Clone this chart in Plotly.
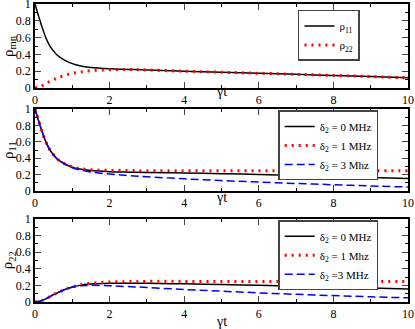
import plotly.graph_objects as go

# ---------------- data ----------------
t = [0, 0.1, 0.2, 0.3, 0.4, 0.5, 0.6, 0.8, 1.0, 1.2, 1.5, 2, 2.5, 3, 4, 5, 6, 7, 8, 9, 10]

# panel 1
rho11 = [1.0, 0.85, 0.71, 0.59, 0.50, 0.44, 0.39, 0.33, 0.29, 0.265, 0.245, 0.23, 0.222, 0.215,
         0.200, 0.188, 0.176, 0.163, 0.150, 0.136, 0.122]
rho22 = [0.0, 0.01, 0.03, 0.055, 0.08, 0.10, 0.12, 0.15, 0.175, 0.19, 0.208, 0.218, 0.22, 0.215,
         0.200, 0.188, 0.176, 0.163, 0.150, 0.136, 0.122]

# panel 2: rho11 for detunings
p2_d0 = [1.0, 0.85, 0.71, 0.59, 0.50, 0.44, 0.39, 0.33, 0.29, 0.268, 0.25, 0.237, 0.231, 0.227,
         0.22, 0.212, 0.203, 0.192, 0.18, 0.167, 0.155]
p2_d1 = [1.0, 0.85, 0.71, 0.59, 0.50, 0.44, 0.39, 0.33, 0.295, 0.275, 0.26, 0.252, 0.25, 0.249,
         0.248, 0.248, 0.248, 0.248, 0.248, 0.248, 0.248]
p2_d3 = [1.0, 0.85, 0.71, 0.59, 0.50, 0.44, 0.39, 0.33, 0.285, 0.258, 0.232, 0.207, 0.19, 0.175,
         0.15, 0.128, 0.11, 0.093, 0.078, 0.063, 0.05]

# panel 3: rho22 for detunings
p3_d0 = [0.0, 0.005, 0.02, 0.04, 0.065, 0.09, 0.11, 0.15, 0.18, 0.2, 0.215, 0.225, 0.226, 0.225,
         0.218, 0.21, 0.2, 0.19, 0.18, 0.168, 0.155]
p3_d1 = [0.0, 0.005, 0.02, 0.04, 0.065, 0.09, 0.11, 0.15, 0.18, 0.205, 0.225, 0.24, 0.245, 0.248,
         0.248, 0.248, 0.248, 0.248, 0.248, 0.248, 0.248]
p3_d3 = [0.0, 0.005, 0.02, 0.04, 0.065, 0.09, 0.11, 0.15, 0.178, 0.195, 0.2, 0.195, 0.185, 0.175,
         0.15, 0.13, 0.11, 0.092, 0.077, 0.062, 0.05]

x_ticks = [0, 2, 4, 6, 8, 10]
y_ticks = [0, 0.2, 0.4, 0.6, 0.8, 1]
y_ticklabels = ["0", "0.2", "0.4", "0.6", "0.8", "1"]

names1 = ["ρ<sub>11</sub>", "ρ<sub>22</sub>"]
names2 = ["δ<sub>2</sub> = 0 MHz", "δ<sub>2</sub> = 1 MHz", "δ<sub>2</sub> = 3 Mhz"]
names3 = ["δ<sub>2</sub> = 0 MHz", "δ<sub>2</sub> = 1 Mhz", "δ<sub>2</sub> =3 MHz"]
ytitles = ["ρ<sub>mn</sub>", "ρ<sub>11</sub>", "ρ<sub>22</sub>"]
xtitle = "γt"

# ---------------- styles ----------------
FONT = "Liberation Serif, Times New Roman, serif"
BLACK = dict(color="black", width=1.5)
RED = dict(color="red", width=3, dash="2px,5px")
BLUE = dict(color="blue", width=1.5, dash="8px,4px")

fig = go.Figure()

def add(x, y, name, line, xa, ya, leg):
    fig.add_trace(go.Scatter(x=x, y=y, name=name, mode="lines", line=dict(shape="spline", **line),
                             xaxis=xa, yaxis=ya, legend=leg, hoverinfo="skip"))

add(t, rho11, names1[0], BLACK, "x", "y", "legend")
add(t, rho22, names1[1], RED, "x", "y", "legend")
add(t, p2_d0, names2[0], BLACK, "x2", "y2", "legend2")
add(t, p2_d1, names2[1], RED, "x2", "y2", "legend2")
add(t, p2_d3, names2[2], BLUE, "x2", "y2", "legend2")
add(t, p3_d0, names3[0], BLACK, "x3", "y3", "legend3")
add(t, p3_d1, names3[1], RED, "x3", "y3", "legend3")
add(t, p3_d3, names3[2], BLUE, "x3", "y3", "legend3")

domains = [[0.718, 1.0], [0.372, 0.648], [0.0, 0.279]]

def xax(anchor):
    return dict(range=[-0.0001, 10.0001], tickvals=x_ticks, ticks="inside", ticklen=6, tickwidth=1,
                mirror="allticks", showline=True, linecolor="black", linewidth=1.5,
                showgrid=False, zeroline=False, anchor=anchor, automargin=False,
                ticklabeloverflow="allow",
                tickfont=dict(family=FONT, size=12, color="black"),
                minor=dict(dtick=1, ticks="inside", ticklen=3, tickcolor="black"))

def yax(anchor, dom):
    return dict(range=[-0.0001, 1.0001], tickvals=y_ticks, ticktext=y_ticklabels, ticks="inside", ticklen=6,
                tickwidth=1, mirror="allticks", showline=True, linecolor="black", linewidth=1.5,
                showgrid=False, zeroline=False, anchor=anchor, domain=dom, automargin=False,
                ticklabeloverflow="allow",
                tickfont=dict(family=FONT, size=12, color="black"),
                minor=dict(dtick=0.1, ticks="inside", ticklen=3, tickcolor="black"))

legbase = dict(bgcolor="white", bordercolor="#444", borderwidth=1.5,
               font=dict(family=FONT, size=11, color="black"), xanchor="left", yanchor="top",
               tracegroupgap=0, itemwidth=30)

annotations = []
for i, dom in enumerate(domains):
    annotations.append(dict(text=ytitles[i], xref="paper", yref="paper", x=-0.07,
                            y=(dom[0] + dom[1]) / 2, textangle=-90, showarrow=False,
                            xanchor="center", yanchor="middle",
                            font=dict(family=FONT, size=15, color="black")))
# x titles
for ypos in [0.705, 0.352, -0.064]:
    annotations.append(dict(text=xtitle, xref="paper", yref="paper", x=0.5, y=ypos,
                            showarrow=False, xanchor="center", yanchor="middle",
                            font=dict(family=FONT, size=14, color="black")))

fig.update_layout(
    width=415, height=329,
    margin=dict(l=35, r=7, t=4, b=27, autoexpand=False),
    paper_bgcolor="white", plot_bgcolor="white",
    showlegend=True,
    xaxis=xax("y"), yaxis=yax("x", domains[0]),
    xaxis2=xax("y2"), yaxis2=yax("x2", domains[1]),
    xaxis3=xax("y3"), yaxis3=yax("x3", domains[2]),
    legend=dict(x=0.705, y=0.98, **legbase),
    legend2=dict(x=0.652, y=0.643, **legbase),
    legend3=dict(x=0.652, y=0.274, **legbase),
    annotations=annotations,
)

fig.write_html("out.html", config={"displayModeBar": False},
               post_script="document.body.style.margin='0';document.body.style.padding='0';")
